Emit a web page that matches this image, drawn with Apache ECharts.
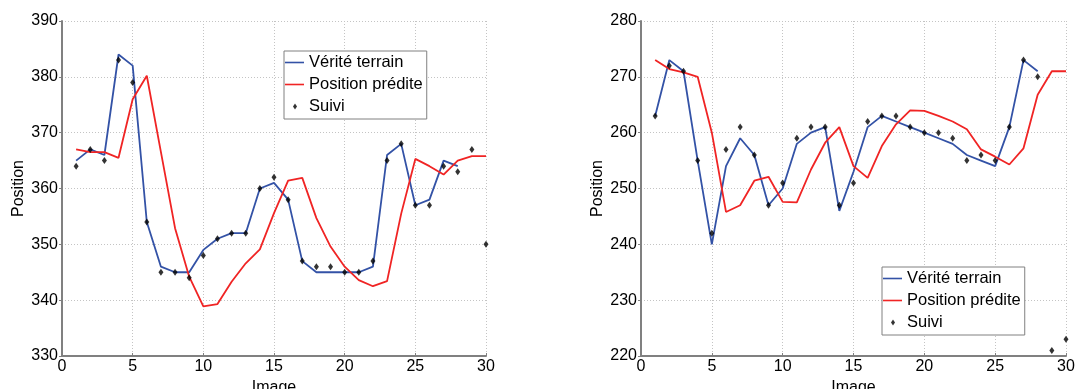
<!DOCTYPE html>
<html><head><meta charset="utf-8">
<script src="https://cdn.jsdelivr.net/npm/echarts@6/dist/echarts.min.js"></script>
<style>html,body{margin:0;padding:0;background:#fff}#c{width:1076px;height:389px}</style>
</head><body><div id="c"></div>
<script>
const frames = [1,2,3,4,5,6,7,8,9,10,11,12,13,14,15,16,17,18,19,20,21,22,23,24,25,26,27,28,29,30];
const leftTruth = [365,367,366,384,382,354,346,345,345,349,351,352,352,360,361,358,347,345,345,345,345,346,366,368,357,358,365,364];
const leftPred = [367,366.5,366.5,365.5,376,380.2,366.5,352.9,344.2,338.9,339.3,343.3,346.6,349.1,355.6,361.4,361.9,354.7,349.6,346,343.6,342.5,343.4,355.5,365.3,364,362.5,365,365.8,365.8];
const leftTrack = [364,367,365,383,379,354,345,345,344,348,351,352,352,360,362,358,347,346,346,345,345,347,365,368,357,357,364,363,367,350];
const rightTruth = [263,273,271,255,240,254,259,256,247,250,258,260,261,246,253,261,263,262,261,260,259,258,256,255,254,261,273,271];
const rightPred = [273,271.4,270.8,270,260,245.8,247,251.4,252.1,247.6,247.5,253.4,258.2,261,254,251.9,257.6,261.5,264,263.9,263,262,260.6,257,255.7,254.3,257.2,266.8,271,271];
const rightTrack = [263,272,271,255,242,257,261,256,247,251,259,261,261,247,251,262,263,263,261,260,260,259,255,256,255,261,273,270,221,223];
const xTicks = {min:0, max:30, interval:5};
const leftY = {min:330, max:390, interval:10};
const rightY = {min:220, max:280, interval:10};
const names = ['Vérité terrain','Position prédite','Suivi'];

const pair = arr => arr.map((v,i)=>[frames[i], v]);
const FONT = '"Liberation Sans", Arial, Helvetica, sans-serif';
const BLUE = '#3352a6', RED = '#f02424';

function xAx(gi){
  return {type:'value', gridIndex:gi, min:xTicks.min, max:xTicks.max, interval:xTicks.interval,
    name:'Image', nameLocation:'middle', nameGap:17,
    nameTextStyle:{fontFamily:FONT, fontSize:16, color:'#000'},
    axisLine:{lineStyle:{color:'#808080', width:2}},
    axisTick:{show:true, inside:true, length:3, lineStyle:{color:'#808080'}},
    axisLabel:{fontFamily:FONT, fontSize:16, color:'#000', margin:3},
    splitLine:{show:true, lineStyle:{color:'#c4c4c4', type:[1,2], width:1}}};
}
function yAx(gi, r){
  return {type:'value', gridIndex:gi, min:r.min, max:r.max, interval:r.interval,
    name:'Position', nameLocation:'middle', nameGap:35,
    nameTextStyle:{fontFamily:FONT, fontSize:16, color:'#000'},
    axisLine:{show:true, lineStyle:{color:'#808080', width:2}},
    axisTick:{show:true, inside:false, length:3, lineStyle:{color:'#808080'}},
    axisLabel:{fontFamily:FONT, fontSize:16, color:'#000', margin:4},
    splitLine:{show:true, lineStyle:{color:'#c4c4c4', type:[1,2], width:1}}};
}
function lineS(name, data, color, gi){
  return {name, type:'line', xAxisIndex:gi, yAxisIndex:gi, data:pair(data), symbol:'none',
    lineStyle:{color, width:1.8}, itemStyle:{color}, animation:false, z:3};
}
function dotS(data, gi){
  return {name:'Suivi', type:'scatter', xAxisIndex:gi, yAxisIndex:gi, data:pair(data),
    symbol:'diamond', symbolSize:[5,7], itemStyle:{color:'#000'}, animation:false, z:4};
}
const lineIcon = 'path://M0,0M19,8M0,3.2L19,3.2L19,4.8L0,4.8Z';
const dotIcon = 'path://M0,0M19,8M8,4L10,1L12,4L10,7Z';
function legend(left, top){
  return {orient:'vertical', left, top, itemWidth:19, itemHeight:8, itemGap:5,
    padding:[3,4,4,1], backgroundColor:'#fff', borderColor:'#808080', borderWidth:1, borderRadius:0,
    textStyle:{fontFamily:FONT, fontSize:16.5, color:'#000'}, selectedMode:false,
    data:[{name:names[0], icon:lineIcon},{name:names[1], icon:lineIcon},{name:names[2], icon:dotIcon}]};
}
const chart = echarts.init(document.getElementById('c'), null, {renderer:'canvas'});
chart.setOption({
  animation:false,
  grid:[{left:62, right:590, top:21, bottom:33, containLabel:false, outerBoundsMode:'none'},
        {left:641, right:10, top:21, bottom:33, containLabel:false, outerBoundsMode:'none'}],
  xAxis:[xAx(0), xAx(1)],
  yAxis:[yAx(0, leftY), yAx(1, rightY)],
  legend:[legend(284, 51), legend(882, 267)],
  series:[
    lineS(names[0], leftTruth, BLUE, 0), lineS(names[1], leftPred, RED, 0), dotS(leftTrack, 0),
    lineS(names[0], rightTruth, BLUE, 1), lineS(names[1], rightPred, RED, 1), dotS(rightTrack, 1)
  ]
});
</script></body></html>
